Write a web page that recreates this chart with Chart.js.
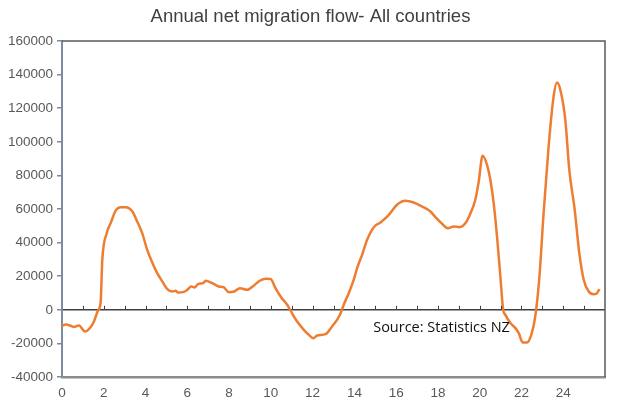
<!DOCTYPE html>
<html>
<head>
<meta charset="utf-8">
<script src="https://cdn.jsdelivr.net/npm/chart.js@4.4.1/dist/chart.umd.min.js"></script>
<style>
  html, body { margin: 0; padding: 0; background: #fff; }
  #wrap { width: 621px; height: 406px; }
</style>
</head>
<body>
<div id="wrap"><canvas id="migrationChart"></canvas></div>
<script>
// Data
const periods = [
  0.00, 0.18, 0.42, 0.57, 0.81, 1.10, 1.34, 1.53, 1.72, 1.85,
  1.93, 2.14, 2.33, 2.57, 2.81, 3.05, 3.37, 3.60, 3.84, 4.08,
  4.32, 4.56, 4.80, 5.04, 5.28, 5.44, 5.55, 5.84, 6.00, 6.19,
  6.35, 6.51, 6.76, 6.88, 7.19, 7.51, 7.75, 7.99, 8.23, 8.52,
  8.87, 9.19, 9.47, 9.75, 9.99, 10.22, 10.49, 10.78, 10.94, 11.26,
  11.58, 11.82, 12.03, 12.22, 12.62, 12.93, 13.17, 13.33, 13.49, 13.73,
  13.97, 14.13, 14.37, 14.61, 14.93, 15.25, 15.65, 16.04, 16.44, 16.84,
  17.24, 17.64, 17.88, 18.20, 18.47, 18.76, 19.04, 19.32, 19.56, 19.79,
  19.95, 20.14, 20.35, 20.51, 20.67, 20.83, 20.99, 21.12, 21.23, 21.47,
  21.71, 21.87, 22.06, 22.26, 22.47, 22.66, 22.86, 23.06, 23.30, 23.54,
  23.70, 23.86, 24.10, 24.29, 24.55, 24.77, 24.98, 25.22, 25.45, 25.58,
  25.74
];
const netMigration = [
  -9500, -8800, -9500, -10200, -9300, -12900, -10800, -7000, -500, 4500,
  29800, 45600, 51600, 59000, 61000, 61000, 58500, 52600, 45600, 35700,
  28200, 21800, 16900, 12300, 10900, 11300, 10300, 10700, 11900, 13900,
  13300, 15300, 15900, 17300, 15900, 13900, 13300, 10500, 10900, 12900,
  11900, 14500, 17300, 18500, 18300, 12900, 7500, 3000, -400, -7000,
  -11900, -14900, -16900, -15300, -14500, -9900, -6000, -2400, 3000, 9900,
  17900, 24800, 32700, 41700, 49200, 52000, 56500, 62500, 64900, 63900,
  61500, 58500, 55200, 51200, 48600, 49600, 49200, 51600, 57500, 65500,
  76000, 91700, 86300, 77400, 63500, 43600, 19800, 400, -3000, -7900,
  -10900, -13900, -19400, -19400, -14900, -4000, 19800, 57500, 97200, 127000,
  135300, 131000, 113000, 83300, 59500, 33700, 17900, 10900, 9300, 9500,
  12300
];
const xRange = [0, 26];
const yRange = [-40000, 160000];
const yStep = 20000;

const chartTitle = 'Annual net migration flow- All countries';
const sourceNote = 'Source: Statistics NZ';

// Frame, zero-line ticks, title and source note
const decorations = {
  id: 'decorations',
  afterDraw(chart) {
    const { ctx, chartArea: a, scales: { x, y } } = chart;
    ctx.save();

    // top and right frame lines
    ctx.strokeStyle = '#595959';
    ctx.lineWidth = 1.5;
    ctx.beginPath();
    ctx.moveTo(a.left, a.top);
    ctx.lineTo(a.right, a.top);
    ctx.lineTo(a.right, a.bottom);
    ctx.stroke();

    // small tick marks along the zero line
    const y0 = y.getPixelForValue(0);
    ctx.strokeStyle = '#404040';
    ctx.lineWidth = 1;
    for (let v = xRange[0] + 1; v < xRange[1]; v++) {
      const px = Math.round(x.getPixelForValue(v)) + 0.5;
      ctx.beginPath();
      ctx.moveTo(px, y0);
      ctx.lineTo(px, y0 - 4);
      ctx.stroke();
    }

    // title
    ctx.fillStyle = '#404040';
    ctx.font = '18.5px "Liberation Sans", Arial, sans-serif';
    ctx.textAlign = 'center';
    ctx.textBaseline = 'middle';
    ctx.fillText(chartTitle, chart.width / 2, 17);

    // source note
    ctx.fillStyle = '#111';
    ctx.font = '14.5px "Open Sans", sans-serif';
    ctx.textAlign = 'left';
    ctx.fillText(sourceNote, x.getPixelForValue(14.9), y.getPixelForValue(-11000));

    ctx.restore();
  }
};

const tickFont = { family: '"Liberation Sans", Arial, sans-serif', size: 13.5 };

new Chart(document.getElementById('migrationChart'), {
  type: 'line',
  data: {
    datasets: [{
      label: 'Annual net migration',
      data: periods.map((p, i) => ({ x: p, y: netMigration[i] })),
      borderColor: '#ED7D31',
      borderWidth: 2.5,
      pointRadius: 0,
      fill: false,
      cubicInterpolationMode: 'monotone'
    }]
  },
  options: {
    responsive: true,
    maintainAspectRatio: false,
    animation: false,
    layout: { padding: { top: 41, right: 16, left: 0, bottom: 0 } },
    plugins: {
      legend: { display: false },
      tooltip: { enabled: false }
    },
    scales: {
      x: {
        type: 'linear',
        min: xRange[0],
        max: xRange[1],
        afterFit: s => { s.height = 29; },
        grid: { display: false, drawTicks: false },
        border: { display: true, color: '#8c8c8c', width: 2.5 },
        ticks: {
          stepSize: 1,
          autoSkip: false,
          maxRotation: 0,
          padding: 8,
          color: '#595959',
          font: tickFont,
          callback: v => (v % 2 === 0 && v < xRange[1]) ? String(v) : ''
        }
      },
      y: {
        min: yRange[0],
        max: yRange[1],
        afterFit: s => { s.width = 62; },
        grid: {
          color: c => c.tick && c.tick.value === 0 ? '#404040' : 'rgba(0,0,0,0)',
          lineWidth: 1.5,
          tickColor: '#7d8aa0',
          tickLength: 5
        },
        border: { color: '#7d8aa0', width: 2 },
        ticks: {
          stepSize: yStep,
          padding: 4,
          color: '#595959',
          font: tickFont,
          callback: v => String(v)
        }
      }
    }
  },
  plugins: [decorations]
});
</script>
</body>
</html>
